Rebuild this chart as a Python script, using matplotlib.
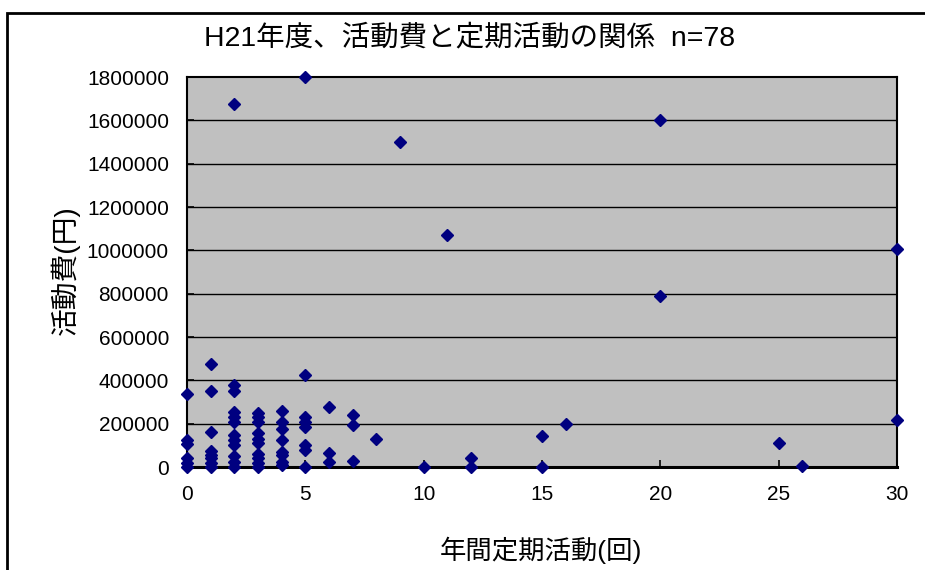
# -*- coding: utf-8 -*-

import matplotlib
matplotlib.use('Agg')
import matplotlib.pyplot as plt
from matplotlib.patches import Rectangle

# 年間定期活動(回) と 活動費(円)
kaisu = [0, 0, 0, 0, 0, 0,
         1, 1, 1, 1, 1, 1, 1, 1,
         2, 2, 2, 2, 2, 2, 2, 2, 2, 2, 2, 2,
         3, 3, 3, 3, 3, 3, 3, 3, 3, 3,
         4, 4, 4, 4, 4, 4, 4, 4,
         5, 5, 5, 5, 5, 5, 5, 5,
         6, 6, 6,
         7, 7, 7,
         8, 9, 10, 11, 12, 12, 15, 15, 16,
         20, 20, 25, 26, 30, 30]
hiyou = [335000, 125000, 105000, 40000, 20000, 0,
         475000, 350000, 160000, 75000, 55000, 40000, 20000, 0,
         1675000, 380000, 350000, 255000, 230000, 210000, 150000, 125000, 100000, 50000, 25000, 0,
         250000, 230000, 210000, 155000, 130000, 110000, 60000, 40000, 20000, 0,
         260000, 210000, 175000, 125000, 70000, 55000, 25000, 10000,
         1800000, 425000, 233000, 210000, 184000, 102000, 79000, 0,
         275000, 63000, 25000,
         240000, 195000, 28000,
         130000, 1500000, 0, 1070000, 40000, 0, 145000, 0, 200000,
         1600000, 790000, 110000, 6000, 1005000, 218000]

xticks = [0, 5, 10, 15, 20, 25, 30]
yticks = [0, 200000, 400000, 600000, 800000, 1000000, 1200000, 1400000, 1600000, 1800000]

fonts = ['Liberation Sans', 'Noto Sans CJK JP']
plt.rcParams['font.family'] = fonts

fig = plt.figure(figsize=(9.25, 5.7), dpi=100)
ax = fig.add_axes([0.2022, 0.1807, 0.7675, 0.6842])
ax.set_facecolor('#C0C0C0')

for v in yticks[1:-1]:
    ax.axhline(v, color='black', lw=1, zorder=1)

ax.plot(kaisu, hiyou, 'D', color='#000080', ms=6, clip_on=False, zorder=3)

ax.set_xlim(0, 30)
ax.set_ylim(0, 1800000)
ax.set_xticks(xticks)
ax.set_yticks(yticks)
ax.set_xticklabels([str(t) for t in xticks])
ax.set_yticklabels([str(t) for t in yticks])
ax.tick_params(direction='in', length=5, width=1.2, labelsize=15, pad=13)
for s in ax.spines.values():
    s.set_linewidth(1.5)
ax.spines['bottom'].set_linewidth(2.2)

fig.text(0.508, 0.933, 'H21年度、活動費と定期活動の関係  n=78', ha='center', va='center', fontsize=20.5)
fig.text(0.070, 0.526, '活動費(円)', ha='center', va='center', rotation=90, fontsize=20)
fig.text(0.585, 0.035, '年間定期活動(回)', ha='center', va='center', fontsize=19)

fig.patches.append(Rectangle((0.0081, -0.5), 2, 0.977 + 0.5, transform=fig.transFigure,
                             fill=False, edgecolor='black', lw=2))

plt.savefig('out.png', dpi=100)
